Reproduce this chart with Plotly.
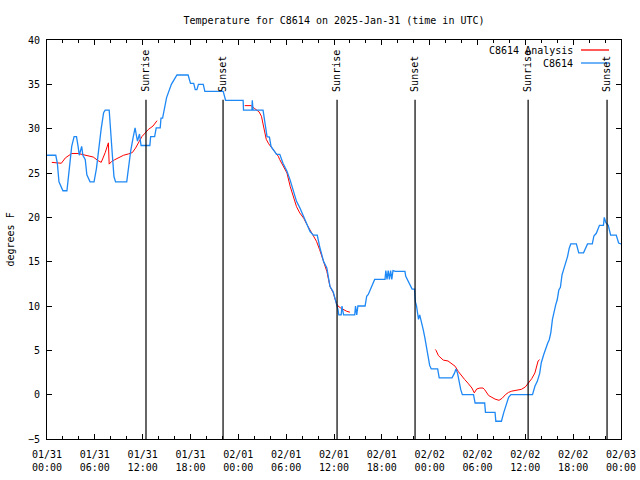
import pandas as pd
import plotly.graph_objects as go

base = pd.Timestamp("2025-01-31 00:00")

# Observed C8614 temperature (hours since 01/31 00:00 UTC, deg F)
obs_hours = [0.0, 1.1, 1.3, 1.5, 2.0, 2.5, 2.8, 3.1, 3.4, 3.7, 3.9, 4.05, 4.35, 4.5, 4.8, 5.0, 5.4, 5.9,
             6.2, 6.5, 6.8, 7.1, 7.3, 7.8, 8.0, 8.2, 8.4, 8.6, 10.0, 10.2, 10.5, 10.8, 11.05, 11.2, 11.35,
             11.6, 11.8, 12.9, 13.0, 13.5, 13.7, 14.2, 14.3, 14.5, 15.0, 15.6, 15.9, 16.3, 17.7, 17.9,
             18.0, 18.4, 18.6, 18.8, 19.0, 19.6, 19.8, 22.1, 22.3, 22.4, 24.6, 24.65, 25.7, 25.75, 25.85,
             27.1, 27.4, 27.6, 27.9, 28.1, 28.8, 29.2, 29.6, 30.1, 30.5, 30.9, 31.3, 31.7, 32.2, 32.6,
             33.0, 33.4, 33.9, 34.2, 34.7, 35.1, 35.5, 35.9, 36.2, 36.5, 36.6, 36.9, 37.0, 37.2, 38.6,
             38.7, 38.85, 39.0, 39.9, 40.1, 40.3, 40.6, 40.8, 41.1, 42.4, 42.5, 42.65, 42.8, 42.95, 43.1,
             43.25, 43.4, 43.7, 44.9, 45.0, 45.3, 45.6, 45.8, 46.1, 46.2, 46.35, 46.6, 46.75, 46.9, 47.2,
             47.4, 47.6, 47.8, 48.0, 48.2, 49.0, 49.2, 50.8, 51.1, 51.3, 51.5, 51.7, 51.9, 52.1, 53.5,
             53.7, 54.9, 55.0, 56.2, 56.3, 57.0, 57.3, 57.6, 57.9, 58.2, 60.9, 61.2, 61.5, 61.8, 62.0,
             62.3, 62.6, 62.8, 63.0, 63.2, 63.4, 63.6, 63.8, 64.0, 64.2, 64.4, 64.6, 64.8, 65.1, 65.3,
             65.5, 65.7, 66.4, 66.7, 67.3, 67.6, 67.8, 68.4, 68.6, 68.9, 69.3, 69.8, 69.9, 70.1, 70.4,
             70.7, 71.4, 71.7, 72.0]
obs_temps = [27.0, 27.0, 26.1, 24.0, 23.0, 23.0, 25.5, 28.0, 29.1, 29.1, 28.0, 27.0, 28.0, 27.0, 26.5,
             24.8, 24.0, 24.0, 25.5, 28.0, 30.0, 31.8, 32.1, 32.1, 30.0, 27.0, 24.6, 24.0, 24.0, 25.5,
             27.5, 29.0, 30.1, 29.3, 28.6, 29.4, 28.1, 28.1, 29.1, 29.1, 30.1, 30.1, 31.2, 31.2, 33.5,
             35.0, 35.5, 36.05, 36.05, 35.5, 35.1, 35.1, 34.4, 34.4, 35.0, 35.0, 34.2, 34.2, 33.7, 33.2,
             33.2, 32.1, 32.1, 33.2, 32.1, 32.1, 30.3, 29.1, 29.05, 28.0, 27.1, 27.1, 26.1, 25.2, 24.2,
             22.9, 21.8, 21.1, 20.1, 19.4, 18.4, 18.0, 18.0, 16.7, 15.0, 14.3, 12.2, 11.6, 10.7, 9.6,
             9.0, 9.0, 10.0, 9.0, 9.0, 10.0, 9.0, 10.0, 10.0, 11.1, 11.3, 11.9, 12.5, 13.0, 13.0, 14.0,
             13.0, 14.0, 13.0, 14.0, 13.0, 14.0, 13.9, 13.9, 13.35, 12.8, 12.4, 11.9, 11.9, 10.5, 10.0,
             8.5, 9.0, 8.5, 7.3, 6.4, 5.2, 4.3, 3.3, 2.9, 2.9, 1.9, 1.9, 2.4, 2.9, 2.4, 1.3, 0.56, 0.0,
             0.0, -0.94, -0.94, -2.0, -2.0, -3.0, -3.0, -2.0, -1.0, -0.3, 0.0, 0.0, 0.94, 1.5, 2.4, 3.6,
             4.5, 5.4, 5.8, 6.2, 7.0, 8.5, 9.4, 10.1, 10.7, 11.8, 12.1, 13.5, 14.1, 15.0, 15.6, 16.5,
             17.0, 17.0, 16.0, 16.0, 16.6, 17.0, 17.0, 17.9, 18.2, 19.1, 19.1, 20.0, 19.4, 19.1, 18.0,
             18.0, 17.1, 17.0]

# Analysis series (None = gap)
ana_hours = [0.6, 1.8, 2.3, 2.7, 3.1, 3.9, 4.5, 5.0, 5.8, 6.4, 6.8, 7.3, 7.7, 7.8, 8.1, 8.5, 8.9, 9.6,
             10.2, 10.7, 11.1, 11.5, 11.9, 12.3, 12.7, 13.3, 13.8, 14.0,
             24.8, 25.6, 26.0, 26.3, 26.6, 26.9, 27.1, 27.3, 27.5, 27.8, 28.2, 28.6, 29.0, 29.2, 29.6,
             30.1, 30.5, 30.9, 31.3, 31.7, 32.2, 32.6, 33.0, 33.4, 33.8, 34.2, 34.7, 35.1, 35.5, 35.9,
             36.3, 36.5, 36.8, 37.2, 37.6, 38.0, 38.2,
             48.7, 48.8, 49.1, 49.7, 50.3, 50.8, 51.2, 51.6, 52.0, 52.4, 52.8, 53.3, 53.6, 53.9, 54.3,
             54.7, 54.9, 55.4, 55.8, 56.2, 56.7, 57.1, 57.5, 57.9, 58.3, 58.7, 59.1, 59.5, 60.0, 60.4,
             60.8, 61.2, 61.4, 61.6, 61.8]
ana_temps = [26.2, 26.1, 26.7, 27.0, 27.2, 27.2, 27.1, 27.0, 26.8, 26.4, 26.2, 27.3, 28.4, 26.0, 26.3,
             26.5, 26.7, 27.0, 27.15, 27.3, 27.8, 28.5, 29.1, 29.5, 29.9, 30.3, 30.9, None,
             32.6, 32.6, 32.3, 32.1, 31.9, 31.4, 30.6, 29.7, 28.8, 28.3, 27.8, 27.4, 26.9, 26.5, 25.8,
             25.0, 23.5, 22.4, 21.2, 20.5, 19.9, 19.2, 18.6, 17.85, 17.3, 16.35, 14.85, 13.9, 12.2,
             11.5, 10.3, 10.0, 9.8, 9.6, 9.4, 9.3, None,
             5.1, 5.0, 4.4, 3.9, 3.8, 3.5, 3.2, 2.6, 2.1, 1.7, 1.3, 0.75, 0.2, 0.64, 0.75, 0.75, 0.56,
             -0.1, -0.3, -0.5, -0.64, -0.4, 0.0, 0.26, 0.4, 0.45, 0.56, 0.6, 0.87, 1.3, 1.8, 2.45, 3.2,
             3.8, 3.95]

sun_times = ["2025-01-31 12:25", "2025-01-31 22:05", "2025-02-01 12:23",
             "2025-02-01 22:10", "2025-02-02 12:21", "2025-02-02 22:15"]
sun_labels = ["Sunrise", "Sunset", "Sunrise", "Sunset", "Sunrise", "Sunset"]

obs_x = [base + pd.Timedelta(hours=h) for h in obs_hours]
ana_x = [base + pd.Timedelta(hours=h) for h in ana_hours]

FONT = "DejaVu Sans Mono"
BLUE = "#1e88f5"

fig = go.Figure()
fig.add_trace(go.Scatter(x=ana_x, y=ana_temps, mode="lines", name="C8614 Analysis",
                         line=dict(color="#ff0000", width=1), connectgaps=False))
fig.add_trace(go.Scatter(x=obs_x, y=obs_temps, mode="lines", name="C8614",
                         line=dict(color=BLUE, width=1.3)))

shapes = []
annotations = []
for t, lab in zip(sun_times, sun_labels):
    shapes.append(dict(type="line", xref="x", yref="paper", x0=t, x1=t, y0=0, y1=0.85,
                       line=dict(color="black", width=1.2)))
    annotations.append(dict(x=t, xref="x", y=0.865, yref="paper", text=lab, textangle=-90,
                            showarrow=False, xanchor="center", yanchor="bottom",
                            font=dict(family=FONT, size=10, color="black")))

# legend (gnuplot style: text then sample line)
leg = [("C8614 Analysis", "#ff0000", 50), ("C8614", BLUE, 63)]
for txt, col, ypix in leg:
    yp = (439 - ypix) / 399
    annotations.append(dict(x=(575 - 47) / 574, xref="paper", y=yp, yref="paper", text=txt,
                            showarrow=False, xanchor="right", yanchor="middle",
                            font=dict(family=FONT, size=10, color="black")))
    shapes.append(dict(type="line", xref="paper", yref="paper",
                       x0=(581 - 47) / 574, x1=(609 - 47) / 574, y0=yp, y1=yp,
                       line=dict(color=col, width=1.3)))

annotations.append(dict(x=(10 - 47) / 574, xref="paper", y=0.5, yref="paper", text="degrees F",
                        textangle=-90, showarrow=False, xanchor="center", yanchor="middle",
                        font=dict(family=FONT, size=10, color="black")))

fig.update_layout(
    width=640, height=480,
    margin=dict(l=47, r=19, t=40, b=41, autoexpand=False),
    paper_bgcolor="white", plot_bgcolor="white",
    showlegend=False,
    title=dict(text="Temperature for C8614 on 2025-Jan-31 (time in UTC)", x=334 / 640, xanchor="center",
               y=1 - 20 / 480, yanchor="middle", font=dict(family=FONT, size=10, color="black")),
    font=dict(family=FONT, size=10, color="black"),
    shapes=shapes, annotations=annotations,
)
fig.update_xaxes(
    range=[base, base + pd.Timedelta(hours=72)],
    dtick=6 * 3600 * 1000, tick0=base, tickformat="%m/%d<br>%H:%M",
    ticks="inside", ticklen=5, tickcolor="black", tickwidth=1, ticklabelstandoff=6,
    minor=dict(ticks="inside", dtick=2 * 3600 * 1000, ticklen=3, tickcolor="black", tickwidth=1),
    showline=True, linecolor="black", linewidth=1, mirror="ticks",
    showgrid=False, zeroline=False, tickfont=dict(family=FONT, size=10),
)
fig.update_yaxes(
    range=[-5, 40], dtick=5, tick0=0,
    ticks="inside", ticklen=5, tickcolor="black", tickwidth=1, ticklabelstandoff=4,
    showline=True, linecolor="black", linewidth=1, mirror="ticks",
    showgrid=False, zeroline=False, tickfont=dict(family=FONT, size=10),
)

fig.write_html("out.html", config={"displayModeBar": False, "staticPlot": True},
               post_script="document.body.style.margin='0';document.body.style.overflow='hidden';")
